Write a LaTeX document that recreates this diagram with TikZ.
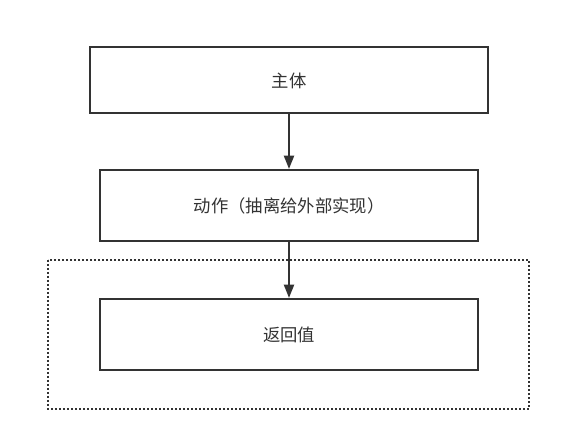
\documentclass[tikz,border=0pt]{standalone}
\usepackage{fontspec}
\newfontfamily\cjk{Noto Sans CJK SC}
\usetikzlibrary{arrows.meta}
\definecolor{linegray}{HTML}{333333}

\begin{document}
\begin{tikzpicture}[x=0.75pt,y=-0.75pt,
  box/.style={draw=linegray,line width=1.5pt,rectangle,text=linegray,font=\cjk\fontsize{13pt}{16pt}\selectfont},
  flow/.style={draw=linegray,line width=1.5pt,-{Triangle[length=10pt,width=7.5pt]}}]
  \useasboundingbox (0,0) rectangle (561,441);
  \node[box,minimum width=298.5pt,minimum height=49.5pt] (subject) at (289,80.5) {主体};
  \node[box,minimum width=283.5pt,minimum height=53.25pt] (action) at (289,205.5) {动作（抽离给外部实现）};
  \node[box,minimum width=283.5pt,minimum height=53.25pt] (result) at (289,334.5) {返回值};
  \draw[linegray,line width=1.2pt,dash pattern=on 1.2pt off 1.8pt] (48,260) rectangle (529,409);
  \draw[flow] (subject) -- (action);
  \draw[flow] (action) -- (result);
\end{tikzpicture}
\end{document}
